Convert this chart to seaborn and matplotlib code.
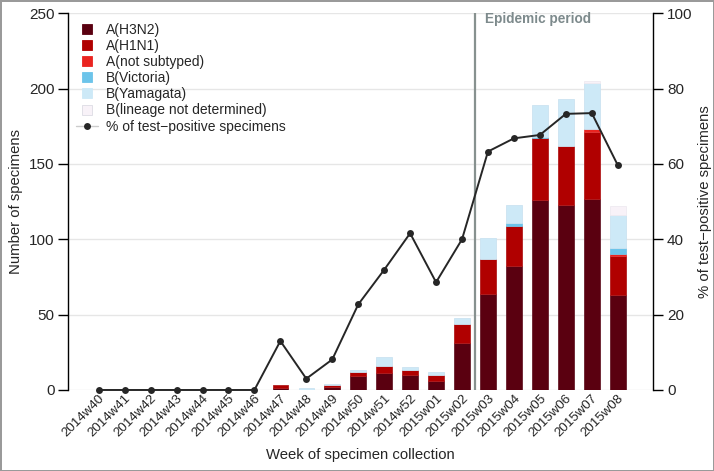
import numpy as np
import pandas as pd
import matplotlib.pyplot as plt
import seaborn as sns
from matplotlib.lines import Line2D
from matplotlib.colors import to_rgb

# ---- data ----
weeks = ["2014w40", "2014w41", "2014w42", "2014w43", "2014w44", "2014w45",
         "2014w46", "2014w47", "2014w48", "2014w49", "2014w50", "2014w51",
         "2014w52", "2015w01", "2015w02", "2015w03", "2015w04", "2015w05",
         "2015w06", "2015w07", "2015w08"]

h3n2 = [0, 0, 0, 0, 0, 0, 0, 1, 0, 2, 9, 11, 10, 6, 31, 64, 82, 126, 123, 127, 63]
h1n1 = [0, 0, 0, 0, 0, 0, 0, 2, 0, 1, 3, 5, 3, 4, 13, 23, 27, 41, 39, 44, 26]
a_not_subtyped = [0, 0, 0, 0, 0, 0, 0, 0, 0, 0, 0, 0, 0, 0, 0, 0, 0, 0, 0, 2, 1]
b_victoria = [0, 0, 0, 0, 0, 0, 0, 0, 0, 0, 0, 0, 0, 0, 0, 0, 2, 1, 0, 0, 4]
b_yamagata = [0, 0, 0, 0, 0, 0, 0, 0, 1, 1, 1, 6, 2, 2, 4, 14, 12, 21, 31, 31, 22]
b_lineage_nd = [0, 0, 0, 0, 0, 0, 0, 0, 0, 0, 0, 0, 0, 0, 0, 0, 0, 0, 0, 1, 6]

pct_positive = [0, 0, 0, 0, 0, 0, 0, 13.0, 3.0, 8.1, 22.7, 31.9, 41.6, 28.6,
                40.0, 63.3, 66.8, 67.7, 73.3, 73.5, 59.7]

types = ["A(H3N2)", "A(H1N1)", "A(not subtyped)", "B(Victoria)",
         "B(Yamagata)", "B(lineage not determined)"]
type_colors = {
    "A(H3N2)": "#5a0010",
    "A(H1N1)": "#b00000",
    "A(not subtyped)": "#ea2420",
    "B(Victoria)": "#6cc4ea",
    "B(Yamagata)": "#cde9f7",
    "B(lineage not determined)": "#f8f2f8",
}

# long table for seaborn
series = [h3n2, h1n1, a_not_subtyped, b_victoria, b_yamagata, b_lineage_nd]
rows = []
for name, vals in zip(types, series):
    for i, v in enumerate(vals):
        rows.append({"week": i, "type": name, "count": v})
df = pd.DataFrame(rows)

sns.set_theme(style="white")
plt.rcParams["font.family"] = ["Liberation Sans", "DejaVu Sans"]

fig, ax = plt.subplots(figsize=(7.14, 4.71), dpi=100)
fig.subplots_adjust(left=0.0957, right=0.9146, bottom=0.172, top=0.9718)
fig.patch.set_edgecolor("#9a9a9a")
fig.patch.set_linewidth(2)

# stacked bars (seaborn stacks the last hue level at the bottom)
sns.histplot(
    data=df, x="week", weights="count", hue="type",
    hue_order=types[::-1], palette=type_colors,
    multiple="stack", discrete=True, shrink=0.6,
    alpha=1, linewidth=0, legend=False, ax=ax,
)
for p in ax.patches:
    if p.get_height() > 0:
        fc = np.array(to_rgb(p.get_facecolor()))
        p.set_edgecolor(tuple(fc * 0.85 + 0.15 * np.array([0.75, 0.75, 0.8])))
        p.set_linewidth(0.6)

ax.set_xlim(-1.17, 21.36)
ax.set_ylim(0, 250)
ax.set_yticks([0, 50, 100, 150, 200, 250])
ax.yaxis.grid(True, color="#e6e6e6", linewidth=1)
ax.set_axisbelow(True)
ax.set_xticks(range(len(weeks)))
ax.set_xticklabels(weeks, rotation=45, ha="right", rotation_mode="anchor",
                   fontsize=9.6)
ax.tick_params(axis="x", length=0, pad=2)
ax.tick_params(axis="y", length=7, width=1, color="black", labelsize=11,
               left=True, direction="out", pad=3)
ax.set_xlabel("Week of specimen collection", fontsize=10.7, labelpad=6)
ax.set_ylabel("Number of specimens", fontsize=10.7)
for s in ["top", "right", "bottom"]:
    ax.spines[s].set_visible(False)
ax.spines["left"].set_color("black")
ax.spines["left"].set_linewidth(1)

# epidemic period marker
ax.axvline(14.5, color="#87918f", linewidth=1.6)
ax.text(14.88, 246, "Epidemic period", color="#7d8a8c", fontsize=9.8,
        fontweight="bold", va="center", ha="left")

# percentage line on twin axis
ax2 = ax.twinx()
sns.lineplot(x=list(range(len(weeks))), y=pct_positive, ax=ax2,
             color="#262626", linewidth=1.4, marker="o", markersize=5,
             markeredgewidth=0, clip_on=False)
ax2.set_ylim(0, 100)
ax2.set_yticks([0, 20, 40, 60, 80, 100])
ax2.grid(False)
ax2.tick_params(axis="y", length=7, width=1, color="black", labelsize=11,
                right=True, direction="out", pad=3)
ax2.set_ylabel("% of test\u2212positive specimens", fontsize=10.7)
for s in ["top", "left", "bottom"]:
    ax2.spines[s].set_visible(False)
ax2.spines["right"].set_color("black")
ax2.spines["right"].set_linewidth(1)

# legend
handles = [Line2D([], [], marker="s", linestyle="none", markersize=7,
                  markerfacecolor=type_colors[t],
                  markeredgecolor="#dcdce4" if t == types[-1] else type_colors[t],
                  markeredgewidth=0.6)
           for t in types]
handles.append(Line2D([], [], color="#cccccc", linewidth=1, marker="o",
                      markersize=5, markerfacecolor="#262626",
                      markeredgewidth=0))
labels = types + ["% of test\u2212positive specimens"]
ax2.legend(handles, labels, loc="upper left", bbox_to_anchor=(-0.004, 1.0),
           frameon=False, fontsize=10, handlelength=1.6,
           handletextpad=0.6, labelspacing=0.15, borderaxespad=0.3)

plt.savefig("out.png", dpi=100)
